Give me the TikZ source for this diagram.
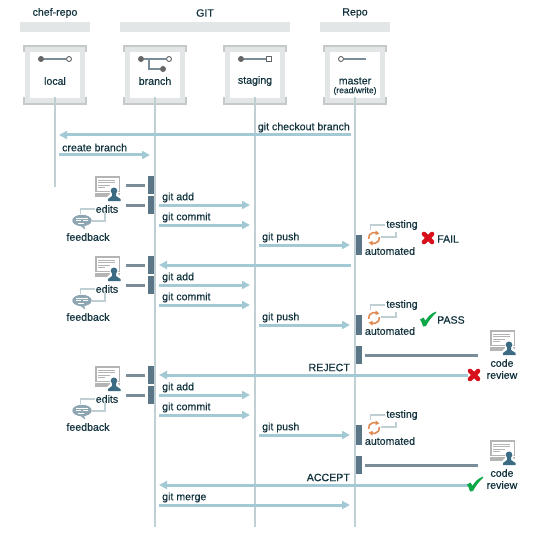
\documentclass[tikz,border=0pt]{standalone}
\usepackage{fontspec}
\setmainfont[FakeBold=0.45]{Liberation Sans}
\usetikzlibrary{arrows.meta}
\definecolor{txt}{HTML}{12333E}
\definecolor{life}{HTML}{BFCFD3}
\definecolor{flow}{HTML}{A3C9D4}
\definecolor{barc}{HTML}{5B7686}
\definecolor{tick}{HTML}{7A8C98}
\definecolor{head}{HTML}{E3E6E6}
\definecolor{edge}{HTML}{C6C9C9}
\definecolor{grayk}{HTML}{B4B4B4}
\definecolor{person}{HTML}{3C6C84}
\definecolor{orng}{HTML}{E08A52}
\definecolor{redx}{HTML}{D8101C}
\definecolor{okc}{HTML}{0BA845}
\definecolor{bubc}{HTML}{8FA6B3}
\tikzset{
  x=1pt,y=-1pt,
  lab/.style={text=txt,inner sep=0pt,font=\fontsize{10.6}{12}\selectfont},
  small/.style={text=txt,inner sep=0pt,font=\fontsize{8.5}{10}\selectfont},
  headbar/.style={fill=head,draw=none,minimum height=10pt,inner sep=0pt,outer sep=0pt},
  actor/.style={draw=head,fill=white,line width=5pt,minimum width=55pt,minimum height=51pt,inner sep=0pt,outer sep=0pt},
  lifeline/.style={draw=life,line width=2pt},
  msgline/.style={draw=flow,line width=3pt,-{Triangle[length=8pt,width=8pt]}},
  actbar/.style={fill=barc,draw=none,minimum width=6pt,minimum height=18pt,inner sep=0pt,outer sep=0pt},
  autobar/.style={actbar,minimum height=20pt},
  stub/.style={draw=tick,line width=3pt},
  bracket/.style={draw=life,line width=1.6pt},
  dotf/.style={circle,fill=black!60,draw=none,minimum size=6pt,inner sep=0pt},
  doth/.style={circle,fill=white,draw=black!60,line width=.9pt,minimum size=5pt,inner sep=0pt},
  doths/.style={rectangle,fill=white,draw=black!60,line width=.9pt,minimum size=5pt,inner sep=0pt},
  iconline/.style={draw=tick,line width=1.5pt},
  monitor/.pic={
    \fill[grayk] (0,0) rectangle (25,16);
    \fill[white] (1.5,1.5) rectangle (23.5,15);
    \fill[grayk] (0,17) rectangle (25,21);
    \draw[grayk,line width=.8pt] (3,4)--(20,4) (3,6.5)--(20,6.5) (3,9)--(15,9) (3,11.5)--(10,11.5);
    \fill[white] (12,26) -- (12,21) -- (15,18) -- (15,14) -- (19,11.5) -- (23,14) -- (23,18) -- (27,21) -- (27,26) -- cycle;
    \fill[person] (19,14.8) circle[radius=3.3pt];
    \fill[person] (13,25) -- (13,23) -- (17,20) -- (17,17) -- (21,17) -- (21,20) -- (25.5,23) -- (25.5,25) -- cycle;
  },
  bubble/.pic={
    \fill[bubc] (2,4) -- (3,9) -- (-2,5) -- cycle;
    \fill[bubc] (0,0) ellipse[x radius=9.7pt,y radius=5.7pt];
    \draw[white,line width=.8pt] (-6,-2)--(6,-2) (-6,0.3)--(-1,0.3) (1,0.3)--(6,0.3) (-4,2.5)--(2,2.5);
  },
  loopring/.pic={
    \draw[orng,line width=1.6pt] (190:5.5pt) arc[start angle=190,end angle=70,radius=5.5pt];
    \draw[orng,line width=1.6pt] (10:5.5pt) arc[start angle=10,end angle=-110,radius=5.5pt];
    \fill[orng] (1.5,-7.6) -- (1.5,-2.9) -- (5.4,-4.6) -- cycle;
    \fill[orng] (-1.5,7.6) -- (-1.5,2.9) -- (-5.4,4.6) -- cycle;
  },
  failx/.pic={
    \draw[redx,line width=4.6pt,line cap=round] (-4,-4)--(4,4) (-4,4)--(4,-4);
  },
  passv/.pic={
    \fill[okc] (-8,0.5) -- (-4.5,-1.5) -- (-2.5,1.8) .. controls (0,-2.5) and (3,-5.5) .. (8,-7.5) -- (8,-6) .. controls (4,-2.5) and (0.5,2) .. (-2,7) -- (-5,7.5) .. controls (-5.5,5) and (-6.5,2.5) .. (-8,0.5) -- cycle;
  },
}
\newcommand{\editblock}[2]{%
  \pic at (95,#2) {monitor};
  \node[lab] (edits#1) at (107,{#2+33}) {edits};
  \pic at (82,{#2+44.5}) {bubble};
  \coordinate (bubtop#1) at (80.5,{#2+38});
  \coordinate (bubright#1) at (92,{#2+45});
  \draw[bracket] ([xshift=-1pt]edits#1.west) -| (bubtop#1);
  \draw[bracket] (bubright#1) -| ([xshift=-2pt,yshift=1pt]edits#1.south);
  \node[lab] (feed#1) at (88,{#2+61}) {feedback};
  \node[actbar] (ba#1) at (151,{#2+9}) {};
  \node[actbar] (bb#1) at (151,{#2+29}) {};
  \coordinate (sa#1) at (126,{#2+9});
  \coordinate (sb#1) at (126,{#2+29});
  \draw[stub] (sa#1) -- ([xshift=-3pt]ba#1.west);
  \draw[stub] (sb#1) -- ([xshift=-3pt]bb#1.west);
}
\newcommand{\testblock}[2]{%
  \pic at (374,#2) {loopring};
  \node[lab] (test#1) at (402,{#2-13}) {testing};
  \node[lab] (auto#1) at (390,{#2+13}) {automated};
  \node[autobar] (ab#1) at (359,{#2+7}) {};
  \coordinate (ta#1) at (370.5,{#2-8.5});
  \coordinate (tb#1) at (381,{#2-1});
  \draw[bracket] ([xshift=-1pt]test#1.west) -| (ta#1);
  \draw[bracket] (tb#1) -| (396,{#2-6});
}
\newcommand{\reviewblock}[2]{%
  \node[actbar] (rb#1) at (359,#2) {};
  \coordinate (rs#1) at (478,#2);
  \draw[stub] ([xshift=3pt]rb#1.east) -- (rs#1);
  \pic at (490,{#2-25}) {monitor};
  \node[lab] (code#1) at (502,{#2+8}) {code};
  \node[lab] (rev#1) at (502,{#2+20}) {review};
}
\newcommand{\msgr}[5]{%
  \coordinate (m#1a) at (#2,#4);
  \coordinate (m#1b) at (#3,#4);
  \draw[msgline] (m#1a) -- (m#1b);
  \node[lab,anchor=west] (t#1) at ({#2+3},{#4-7.5}) {#5};
}
\newcommand{\msgl}[5]{%
  \coordinate (m#1a) at (#2,#4);
  \coordinate (m#1b) at (#3,#4);
  \draw[msgline] (m#1a) -- (m#1b);
  \node[lab,anchor=east] (t#1) at (350,{#4-7.5}) {#5};
}
\newcommand{\actorbox}[2]{%
  \node[actor] (#1) at (#2,75) {};
  \draw[edge,line width=2pt] ({#2-31},52.5) -- ({#2-31},46) -- ({#2+31},46) -- ({#2+31},52.5);
  \draw[edge,line width=2pt] ({#2-31},97.5) -- ({#2-31},104) -- ({#2+31},104) -- ({#2+31},97.5);
}
\begin{document}
\begin{tikzpicture}
\useasboundingbox (0,0) rectangle (540,540);
\fill[white] (0,0) rectangle (540,540);

\node[headbar,minimum width=70pt] (h1) at (55,27) {};
\node[headbar,minimum width=170pt] (h2) at (205,27) {};
\node[headbar,minimum width=70pt] (h3) at (355,27) {};
\node[lab] (ht1) at (55,13) {chef-repo};
\node[lab] (ht2) at (205,13) {GIT};
\node[lab] (ht3) at (355,13) {Repo};

\actorbox{local}{55}
\actorbox{branch}{155}
\actorbox{staging}{255}
\actorbox{master}{355}

\node[lab] (lb1) at (55,81) {local};
\node[lab] (lb2) at (155,81) {branch};
\node[lab] (lb3) at (255,81) {staging};
\node[lab] (lb4) at (355,81) {master};
\node[small] (lb5) at (355,91) {(read/write)};

\node[dotf] (d1a) at (41,59) {};
\node[doth] (d1b) at (69,59) {};
\draw[iconline] (d1a) -- (d1b);
\node[dotf] (d2a) at (141,59) {};
\node[doth] (d2b) at (169,59) {};
\node[dotf] (d2c) at (163,69) {};
\coordinate (d2k) at (149,59);
\draw[iconline] (d2a) -- (d2b);
\draw[iconline] (d2k) |- (d2c);
\node[dotf] (d3a) at (241,59) {};
\node[doths] (d3b) at (269,59) {};
\draw[iconline] (d3a) -- (d3b);
\node[doth] (d4a) at (341,59) {};
\coordinate (d4b) at (366,59);
\draw[iconline] (d4a) -- (d4b);

\coordinate (e1) at (55,187);
\coordinate (e2) at (155,527);
\coordinate (e3) at (255,527);
\coordinate (e4) at (355,527);
\draw[lifeline,shorten <=-3pt] (local.south) -- (e1);
\draw[lifeline,shorten <=-3pt] (branch.south) -- (e2);
\draw[lifeline,shorten <=-3pt] (staging.south) -- (e3);
\draw[lifeline,shorten <=-3pt] (master.south) -- (e4);

\msgl{co}{351}{59}{135}{git checkout branch}
\msgr{cb}{59}{150}{155}{create branch}

\editblock{A}{176}
\msgr{aA}{159}{250}{205}{git add}
\msgr{cA}{159}{250}{225}{git commit}
\msgr{pA}{259}{350}{245}{git push}
\testblock{A}{238}
\pic at (428,238) {failx};
\node[lab,anchor=west] (fail) at (437,239) {FAIL};

\coordinate (rtA) at (351,265);
\coordinate (rtB) at (159,265);
\draw[msgline] (rtA) -- (rtB);
\editblock{B}{256}
\msgr{aB}{159}{250}{285}{git add}
\msgr{cB}{159}{250}{305}{git commit}
\msgr{pB}{259}{350}{325}{git push}
\testblock{B}{318}
\pic at (428,319) {passv};
\node[lab,anchor=west] (pass) at (437,320) {PASS};
\reviewblock{B}{355}
\msgl{rj}{468}{159}{375}{REJECT}
\pic at (474,375) {failx};

\editblock{C}{366}
\msgr{aC}{159}{250}{395}{git add}
\msgr{cC}{159}{250}{415}{git commit}
\msgr{pC}{259}{350}{435}{git push}
\testblock{C}{428}
\reviewblock{C}{465}
\msgl{ac}{468}{159}{485}{ACCEPT}
\pic at (475,484) {passv};
\msgr{mg}{159}{350}{505}{git merge}
\end{tikzpicture}
\end{document}
